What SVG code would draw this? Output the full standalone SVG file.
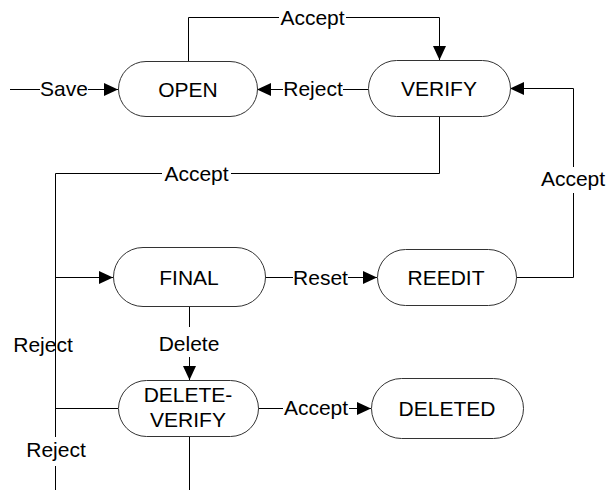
<svg xmlns="http://www.w3.org/2000/svg" width="606" height="490" viewBox="0 0 606 490">
  <style>
    .node { fill: #ffffff; stroke: #333333; stroke-width: 1; }
    .wire { fill: none; stroke: #000000; stroke-width: 1; }
    .txt { font-family: "Liberation Sans", Arial, sans-serif; font-size: 21px; fill: #000000; text-anchor: middle; }
  </style>
  <defs>
    <marker id="arrow" markerUnits="userSpaceOnUse" markerWidth="14" markerHeight="14" refX="14" refY="6.5" orient="auto">
      <path d="M0,0 L14,6.5 L0,13 Z" fill="#000000"/>
    </marker>
  </defs>

  <rect width="606" height="490" fill="#ffffff"/>

  <!-- connectors and their labels -->
  <g id="connectors">
    <!-- entry: Save -->
    <path class="wire" d="M10,89.5 H40"/>
    <path class="wire" d="M88,89.5 H118" marker-end="url(#arrow)"/>
    <text class="txt" x="64" y="96">Save</text>

    <!-- OPEN to VERIFY: Accept -->
    <path class="wire" d="M188.5,61 V17.5 H279"/>
    <path class="wire" d="M346,17.5 H439.5 V60" marker-end="url(#arrow)"/>
    <text class="txt" x="312.5" y="24.5">Accept</text>

    <!-- VERIFY to OPEN: Reject -->
    <path class="wire" d="M368,89.5 H343"/>
    <path class="wire" d="M283,89.5 H257" marker-end="url(#arrow)"/>
    <text class="txt" x="313" y="96">Reject</text>

    <!-- VERIFY to FINAL: Accept -->
    <path class="wire" d="M439.5,117 V173.5 H231"/>
    <path class="wire" d="M162,173.5 H55.5 V437"/>
    <path class="wire" d="M55.5,466 V490"/>
    <path class="wire" d="M55.5,277.5 H113" marker-end="url(#arrow)"/>
    <text class="txt" x="196.5" y="180.5">Accept</text>

    <!-- DELETE-VERIFY back to FINAL: Reject -->
    <path class="wire" d="M118,408.5 H55.5"/>
    <text class="txt" x="43" y="352">Reject</text>
    <text class="txt" x="56" y="457">Reject</text>

    <!-- FINAL to REEDIT: Reset -->
    <path class="wire" d="M265,277.5 H293"/>
    <path class="wire" d="M348,277.5 H377" marker-end="url(#arrow)"/>
    <text class="txt" x="320.5" y="284.5">Reset</text>

    <!-- REEDIT to VERIFY: Accept -->
    <path class="wire" d="M516,277.5 H573.5 V193"/>
    <path class="wire" d="M573.5,167 V88.5 H510" marker-end="url(#arrow)"/>
    <text class="txt" x="573" y="186">Accept</text>

    <!-- FINAL to DELETE-VERIFY: Delete -->
    <path class="wire" d="M189.5,307 V327"/>
    <path class="wire" d="M189.5,357 V380" marker-end="url(#arrow)"/>
    <text class="txt" x="189" y="351">Delete</text>

    <!-- DELETE-VERIFY to DELETED: Accept -->
    <path class="wire" d="M258,408.5 H283"/>
    <path class="wire" d="M349,408.5 H371" marker-end="url(#arrow)"/>
    <text class="txt" x="316" y="415">Accept</text>

    <!-- DELETE-VERIFY: Reject, leaving downward -->
    <path class="wire" d="M189.5,437 V490"/>
  </g>

  <!-- states -->
  <g id="open">
    <rect class="node" x="118.5" y="61.5" width="139" height="55" rx="27.5" ry="27.5"/>
    <text class="txt" x="188" y="96.5">OPEN</text>
  </g>
  <g id="verify">
    <rect class="node" x="368.5" y="60.5" width="142" height="56" rx="28" ry="28"/>
    <text class="txt" x="439" y="96">VERIFY</text>
  </g>
  <g id="final">
    <rect class="node" x="113.5" y="247.5" width="152" height="59" rx="29.5" ry="29.5"/>
    <text class="txt" x="189" y="284.5">FINAL</text>
  </g>
  <g id="reedit">
    <rect class="node" x="377.5" y="249.5" width="139" height="56" rx="28" ry="28"/>
    <text class="txt" x="446" y="284.5">REEDIT</text>
  </g>
  <g id="delete-verify">
    <rect class="node" x="118.5" y="380.5" width="140" height="56" rx="28" ry="28"/>
    <text class="txt" x="188" y="401.5">DELETE-</text>
    <text class="txt" x="188" y="426.5">VERIFY</text>
  </g>
  <g id="deleted">
    <rect class="node" x="371.5" y="378.5" width="152" height="60" rx="30" ry="30"/>
    <text class="txt" x="447" y="415.5">DELETED</text>
  </g>
</svg>
